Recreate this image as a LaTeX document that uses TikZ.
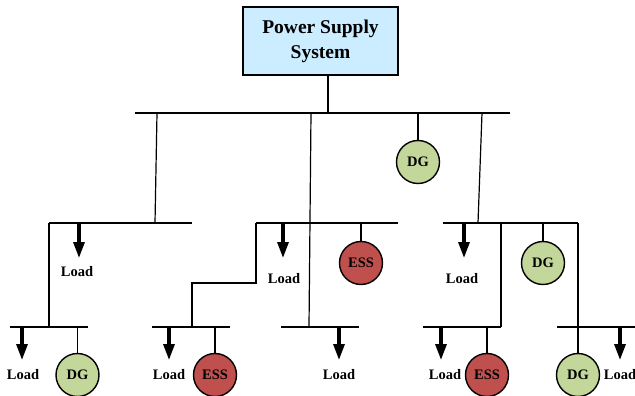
\documentclass[tikz,border=0pt]{standalone}
\usepackage{fontspec}
\setmainfont{Liberation Serif}
\usetikzlibrary{arrows.meta}
\definecolor{boxblue}{RGB}{204,236,255}
\definecolor{dggreen}{RGB}{196,215,155}
\definecolor{essred}{RGB}{192,80,77}
\begin{document}
\begin{tikzpicture}[x=1pt,y=-1pt, line width=1.2pt,
  bus/.style={line width=1.3pt},
  loadarrow/.style={line width=3.2pt,-{Triangle[length=16pt,width=11pt]}},
  dg/.style={circle,draw,line width=1.4pt,fill=dggreen,minimum size=43pt,inner sep=0pt,font=\fontsize{14.5}{14.5}\selectfont\bfseries},
  ess/.style={dg,fill=essred},
  lbl/.style={font=\fontsize{14.5}{14.5}\selectfont\bfseries,inner sep=0pt}]
\useasboundingbox (0,0) rectangle (635,396);

% power supply
\node[draw, fill=boxblue, line width=1.5pt, minimum width=155pt, minimum height=68pt,
      align=center, font=\fontsize{19.5}{25}\selectfont\bfseries] (pss) at (320.5,41) {Power Supply\\System};

% main bus
\coordinate (mL) at (135,113); \coordinate (mR) at (510,113);
\coordinate (m0) at (328,113);
\coordinate (m1) at (157,113); \coordinate (m2) at (311,113);
\coordinate (m3) at (418,113); \coordinate (m4) at (482,113);
\draw[bus] (mL) -- (mR);
\draw (pss.south -| m0) -- (m0);
\node[dg] (dg1) at (418,162) {DG};
\draw (m3) -- (dg1.north);

% middle buses
\coordinate (aL) at (49,223);  \coordinate (aR) at (192,223); \coordinate (a1) at (155,223);
\coordinate (bL) at (256,223); \coordinate (bR) at (398,223); \coordinate (b1) at (310,223);
\coordinate (cL) at (443,223); \coordinate (cR) at (578,223); \coordinate (c1) at (478,223);
\draw[bus] (aL) -- (aR);
\draw[bus] (bL) -- (bR);
\draw[bus] (cL) -- (cR);
\draw (m1) -- (a1);
\draw (m4) -- (c1);

% bottom buses
\coordinate (dL) at (10,327);  \coordinate (dR) at (88,327);
\coordinate (eL) at (152,327); \coordinate (eR) at (230,327);
\coordinate (fL) at (281,327); \coordinate (fR) at (359,327); \coordinate (f1) at (309,327);
\coordinate (gL) at (423,327); \coordinate (gR) at (501,327);
\coordinate (hL) at (557,327); \coordinate (hR) at (640,327);
\draw[bus] (dL) -- (dR);
\draw[bus] (eL) -- (eR);
\draw[bus] (fL) -- (fR);
\draw[bus] (gL) -- (gR);
\draw[bus] (hL) -- (hR);

% feeders between levels
\draw (m2) -- (f1);
\draw (aL) -- (aL |- dR);
\coordinate (bk1) at (256,283); \coordinate (bk2) at (192,283); \coordinate (e1) at (192,327);
\draw (bL) -- (bk1) -- (bk2) -- (e1);
\coordinate (c2) at (501,223); \coordinate (g1) at (501,327);
\draw (c2) -- (g1);

% middle loads and sources
\coordinate (la1) at (79,223);  \coordinate (la2) at (79,258);
\coordinate (lb1) at (283,223); \coordinate (lb2) at (283,258);
\coordinate (lc1) at (464,223); \coordinate (lc2) at (464,258);
\draw[loadarrow] (la1) -- (la2);
\draw[loadarrow] (lb1) -- (lb2);
\draw[loadarrow] (lc1) -- (lc2);
\node[lbl] (tla) at (77,272) {Load};
\node[lbl] (tlb) at (284,279) {Load};
\node[lbl] (tlc) at (462,279) {Load};
\node[ess] (ess1) at (361,263) {ESS};
\coordinate (b2) at (361,223);
\draw (b2) -- (ess1.north);
\node[dg] (dg2) at (543,263) {DG};
\coordinate (c3) at (543,223);
\draw (c3) -- (dg2.north);

% bottom loads and sources
\coordinate (ld1) at (22,327);  \coordinate (ld2) at (22,360);
\coordinate (le1) at (169,327); \coordinate (le2) at (169,360);
\coordinate (lf1) at (339,327); \coordinate (lf2) at (339,360);
\coordinate (lg1) at (441,327); \coordinate (lg2) at (441,360);
\coordinate (lh1) at (620,327); \coordinate (lh2) at (620,360);
\draw[loadarrow] (ld1) -- (ld2);
\draw[loadarrow] (le1) -- (le2);
\draw[loadarrow] (lf1) -- (lf2);
\draw[loadarrow] (lg1) -- (lg2);
\draw[loadarrow] (lh1) -- (lh2);
\node[lbl] (tld) at (23,375) {Load};
\node[lbl] (tle) at (169,375) {Load};
\node[lbl] (tlf) at (339,375) {Load};
\node[lbl] (tlg) at (445,375) {Load};
\node[lbl] (tlh) at (620,375) {Load};

\node[dg] (dg3) at (77.5,375) {DG};
\coordinate (d1) at (77.5,327);
\draw (d1) -- (dg3.north);
\node[ess] (ess2) at (215,375) {ESS};
\coordinate (e2) at (215,327);
\draw (e2) -- (ess2.north);
\node[ess] (ess3) at (487,375) {ESS};
\coordinate (g2) at (487,327);
\draw (g2) -- (ess3.north);
\node[dg] (dg4) at (578,375) {DG};
\draw (cR) -- (dg4.north);
\end{tikzpicture}
\end{document}
